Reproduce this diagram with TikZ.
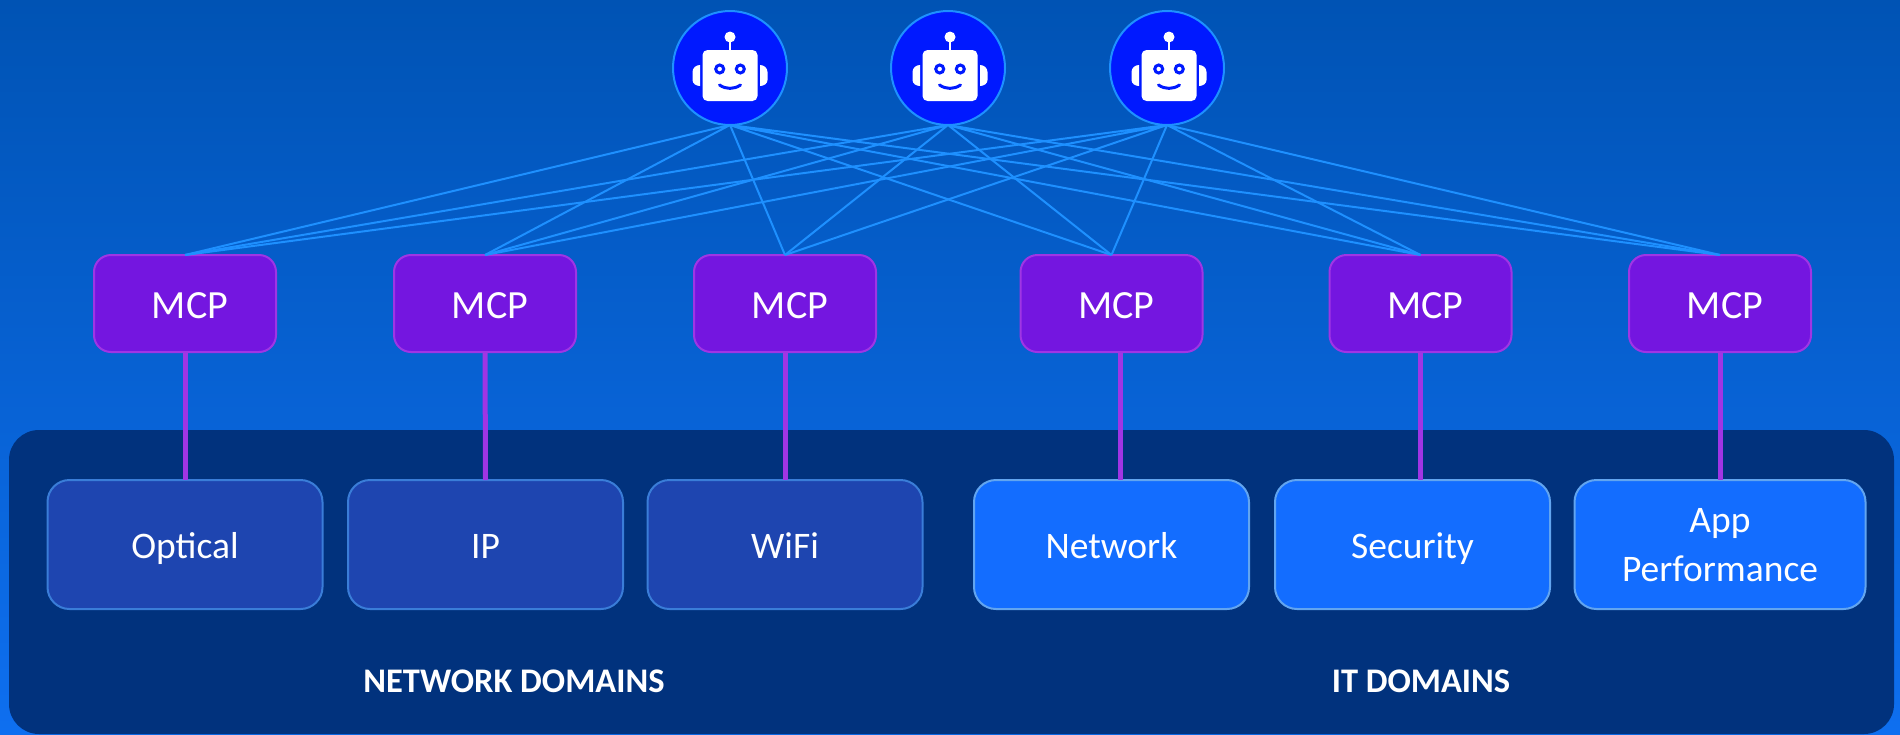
\documentclass[tikz,border=0pt]{standalone}
\usepackage{fontspec}
\setmainfont{Carlito}
\definecolor{bgtop}{HTML}{0053B4}
\definecolor{bgbottom}{HTML}{0E6FF0}
\definecolor{panelblue}{HTML}{01327D}
\definecolor{robotblue}{HTML}{0019FF}
\definecolor{fanblue}{HTML}{1E90FF}
\definecolor{mcpfill}{HTML}{7416E0}
\definecolor{mcpline}{HTML}{A035E4}
\definecolor{darkfill}{HTML}{1E45B0}
\definecolor{darkline}{HTML}{3A7DD8}
\definecolor{brightfill}{HTML}{136DFF}
\definecolor{brightline}{HTML}{62A5F0}
\tikzset{
	robot/.pic={
		\fill[white, rounded corners=5pt] (-27.5,-18) rectangle (27.5,33);
		\fill[white] (-1.2,-31) rectangle (1.2,-18);
		\fill[white] (0,-31) circle (5.5);
		\fill[white] (-30,-3) to[out=180,in=90] (-37.5,4) -- (-37.5,12) to[out=-90,in=180] (-30,18) -- cycle;
		\fill[white] (30,-3) to[out=0,in=90] (37.5,4) -- (37.5,12) to[out=-90,in=0] (30,18) -- cycle;
		\draw[robotblue, line width=3pt] (-10.3,1) circle (4);
		\draw[robotblue, line width=3pt] (10.3,1) circle (4);
		\draw[robotblue, line width=3pt, line cap=round] (-10.5,17) .. controls (-4,21.5) and (4,21.5) .. (10.5,17);
	}
}
\begin{document}
\begin{tikzpicture}[x=1pt, y=-1pt,
	every node/.style={text=white, inner sep=0pt, outer sep=0pt},
	agent/.style={circle, draw=fanblue, fill=robotblue, line width=2pt, minimum size=114pt},
	mcp/.style={draw=mcpline, fill=mcpfill, line width=2pt, rounded corners=17pt, minimum width=182pt, minimum height=97pt, text height=29pt, text depth=0pt, font=\fontsize{40}{48}\selectfont},
	dark/.style={draw=darkline, fill=darkfill, line width=2pt, rounded corners=22pt, minimum width=275pt, minimum height=129pt, align=center, text height=27pt, text depth=0pt, font=\fontsize{37.5}{49}\selectfont},
	bright/.style={dark, draw=brightline, fill=brightfill},
	fan/.style={draw=fanblue, line width=2pt},
	link/.style={draw=mcpline, line width=5pt},
	title/.style={font=\fontsize{34.5}{40}\selectfont\bfseries}]
	\useasboundingbox (0,0) rectangle (1900,734);
	\shade[top color=bgtop, bottom color=bgbottom] (0,0) rectangle (1900,734);
	\node[fill=panelblue, rounded corners=30pt, minimum width=1885pt, minimum height=304pt](panel) at (951.5,582) {};
	% robots
	\node[agent](r1) at (730,68) {};
	\node[agent](r2) at (948,68) {};
	\node[agent](r3) at (1167,68) {};
	\pic at (r1) {robot};
	\pic at ([xshift=2pt]r2) {robot};
	\pic at ([xshift=2pt]r3) {robot};
	% mcp row
	\node[mcp](m1) at (185,303.5) {\hspace*{10pt}MCP};
	\node[mcp](m2) at (485,303.5) {\hspace*{10pt}MCP};
	\node[mcp](m3) at (785,303.5) {\hspace*{10pt}MCP};
	\node[mcp](m4) at (1111.5,303.5) {\hspace*{10pt}MCP};
	\node[mcp](m5) at (1420.5,303.5) {\hspace*{10pt}MCP};
	\node[mcp](m6) at (1720,303.5) {\hspace*{10pt}MCP};
	% domains
	\node[dark](optical) at (185,544.5) {Optical};
	\node[dark](ip) at (485.5,544.5) {IP};
	\node[dark](wifi) at (785,544.5) {WiFi};
	\node[bright](network) at (1111.5,544.5) {Network};
	\node[bright](security) at (1412.5,544.5) {Security};
	\node[bright, minimum width=291pt, text height=74pt](app) at (1720,544.5) {App\\Performance};
	\node[title](netdom) at (514,681) {NETWORK DOMAINS};
	\node[title](itdom) at (1421,681) {IT DOMAINS};
	% fan out
	\draw[fan] (r1.south) -- (m1.north) (r1.south) -- (m2.north) (r1.south) -- (m3.north)
		(r1.south) -- (m4.north) (r1.south) -- (m5.north) (r1.south) -- (m6.north);
	\draw[fan] (r2.south) -- (m1.north) (r2.south) -- (m2.north) (r2.south) -- (m3.north)
		(r2.south) -- (m4.north) (r2.south) -- (m5.north) (r2.south) -- (m6.north);
	\draw[fan] (r3.south) -- (m1.north) (r3.south) -- (m2.north) (r3.south) -- (m3.north)
		(r3.south) -- (m4.north) (r3.south) -- (m5.north) (r3.south) -- (m6.north);
	% links
	\draw[link] (m1.south) -- (optical.north);
	\draw[link] (m2.south) -- (ip.north);
	\draw[link] (m3.south) -- (wifi.north);
	\draw[link] ([xshift=8.5pt]m4.south) -- ([xshift=8.5pt]network.north);
	\draw[link] (m5.south) -- (m5.south |- security.north);
	\draw[link] (m6.south) -- (app.north);
\end{tikzpicture}
\end{document}
